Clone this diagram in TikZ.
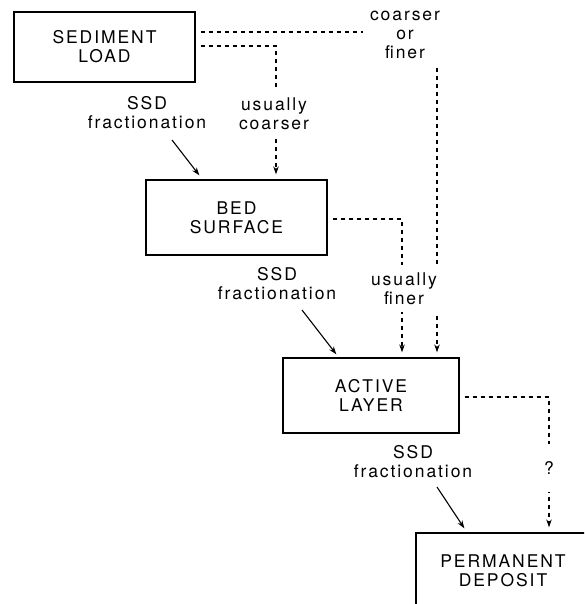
\documentclass[tikz,border=0pt]{standalone}
\usepackage{fontspec}
\setmainfont{TeX Gyre Heros}[LetterSpace=11]
\usetikzlibrary{arrows.meta,calc}
\begin{document}
\begin{tikzpicture}[x=1pt,y=-1pt,
  txt/.style={font=\fontsize{17.5}{19}\selectfont,align=center},
  box/.style={txt,draw,line width=1.3pt,minimum width=181pt,minimum height=70pt,inner sep=0pt},
  lbl/.style={txt,fill=white,inner sep=7pt},
  dl/.style={line width=1.1pt,dash pattern=on 4pt off 4pt},
  tip/.style={-{Stealth[length=8pt,width=5.5pt]}},
  sl/.style={line width=1.1pt}
]
\clip (0,0) rectangle (584,604);
% boxes
\node[box] (sed) at (104.5,47) {SEDIMENT\\LOAD};
\node[box,minimum height=75pt] (bed) at (236.5,217.5) {BED\\SURFACE};
\node[box,minimum width=176pt,minimum height=75pt] (act) at (371,395.5) {ACTIVE\\LAYER};
\node[box,minimum width=174pt,minimum height=75pt] (perm) at (503,570.5) {PERMANENT\\DEPOSIT};
% helper coordinates
\coordinate (ya) at (0,32);
\coordinate (xa) at (437,0);
\coordinate (yb) at (0,46);
\coordinate (xb) at (276,0);
\coordinate (yc) at (0,219);
\coordinate (xc) at (402,0);
\coordinate (yd) at (0,397);
\coordinate (xd) at (549,0);
% dashed connectors
\draw[dl,tip,shorten <=5pt,shorten >=5pt] (sed.east |- ya) -| (act.north -| xa);
\draw[dl,tip,shorten <=5pt,shorten >=5pt] (sed.east |- yb) -| (bed.north -| xb);
\draw[dl,tip,shorten <=5pt,shorten >=5pt] (bed.east |- yc) -| (act.north -| xc);
\draw[dl,tip,shorten <=5pt,shorten >=5pt] (act.east |- yd) -| (perm.north -| xd);
% labels
\node[lbl] (s1) at (147,112.5) {SSD\\fractionation};
\node[lbl] (uc) at (274,114) {usually\\coarser};
\node[lbl] (cf) at (405,35) {coarser\\or\\finer};
\node[lbl] (s2) at (277,284) {SSD\\fractionation};
\node[lbl] (uf) at (404,288.5) {usually\\finer};
\node[lbl] (s3) at (413,462) {SSD\\fractionation};
\node[lbl,inner ysep=18pt] (q) at (549,468) {?};
% solid arrows
\coordinate (p1) at (172,140);
\coordinate (p2) at (302,310);
\coordinate (p3) at (437,487);
\draw[sl,tip] (p1) -- ($(bed.north west)+(54,-4)$);
\draw[sl,tip] (p2) -- ($(act.north west)+(54,-3)$);
\draw[sl,tip] (p3) -- ($(perm.north west)+(49,-4)$);
\end{tikzpicture}
\end{document}
